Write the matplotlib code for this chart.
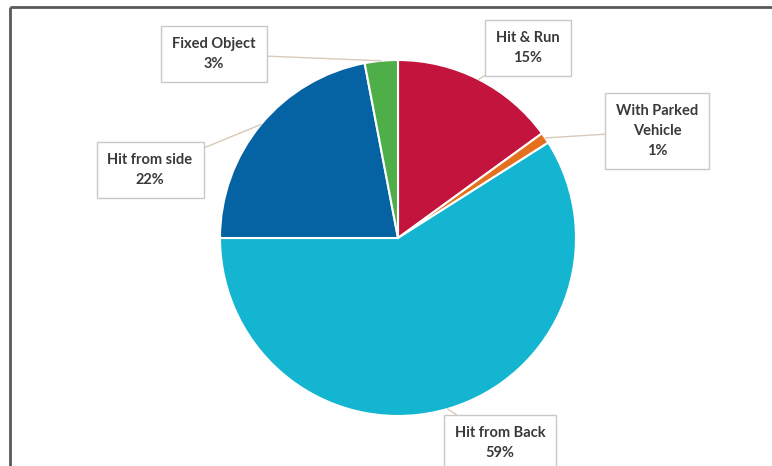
import matplotlib
matplotlib.use("Agg")
import matplotlib.pyplot as plt
import numpy as np

categories = ["Hit & Run", "With Parked\nVehicle", "Hit from Back", "Hit from side", "Fixed Object"]
values = [15, 1, 59, 22, 3]
colors = ["#C3143E", "#E5701E", "#13B5D1", "#0562A3", "#4EAF48"]

W, H = 772, 466
fig = plt.figure(figsize=(W / 100, H / 100), dpi=100)
ax = fig.add_axes([0, 0, 1, 1])

cx, cy, R = 398, H - 238, 178
wedges, _ = ax.pie(values, colors=colors, startangle=90, counterclock=False,
                   center=(cx, cy), radius=R, frame=True,
                   wedgeprops=dict(edgecolor="white", linewidth=1.5))
ax.set_xlim(0, W)
ax.set_ylim(0, H)
ax.set_aspect("equal")
ax.axis("off")

# label box centres (pixels, y measured from top)
label_pos = [(528, 48), (657, 131), (500, 443), (150, 170), (214, 54)]

for w, lab, v, (tx, ty) in zip(wedges, categories, values, label_pos):
    ang = np.deg2rad((w.theta1 + w.theta2) / 2)
    px, py = cx + R * np.cos(ang), cy + R * np.sin(ang)
    ax.annotate(f"{lab}\n{v}%", xy=(px, py), xytext=(tx, H - ty),
                ha="center", va="center", fontsize=10.5, fontweight="bold",
                family=["Lato", "DejaVu Sans"], color="#3A3A3A", linespacing=1.55,
                bbox=dict(boxstyle="square,pad=0.75", fc="white", ec="#C8C8C8", lw=1),
                arrowprops=dict(arrowstyle="-", color="#D9C9B9", lw=1, shrinkA=0, shrinkB=0))

# chart frame (top & left visible)
ax.plot([10, 10], [0, H - 7], color="#595959", lw=2, solid_capstyle="butt")
ax.plot([10, W], [H - 7, H - 7], color="#595959", lw=2, solid_capstyle="butt")

fig.savefig("out.png", dpi=100)
